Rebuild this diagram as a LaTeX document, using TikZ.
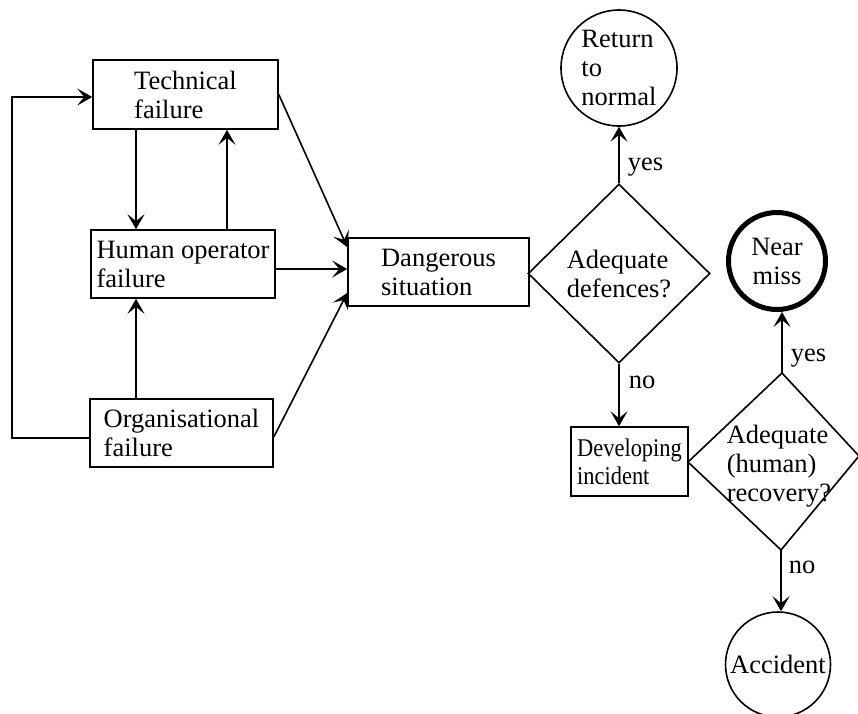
\documentclass[tikz,border=0pt]{standalone}
\usepackage{fontspec}
\setmainfont{Liberation Serif}
\usetikzlibrary{arrows.meta,shapes.geometric}
\begin{document}
\begin{tikzpicture}[x=1pt,y=-1pt,
  font=\fontsize{26.5}{29}\selectfont,
  box/.style={draw, line width=1.6pt, inner sep=2pt, align=left},
  circ/.style={draw, circle, line width=1.6pt, inner sep=0pt, align=left},
  arr/.style={line width=1.6pt, -{Stealth[length=15pt,width=17pt,inset=7pt]}},
  lbl/.style={inner sep=0pt, anchor=west}]
\useasboundingbox (0,0) rectangle (858,713);
\clip (0,0) rectangle (858,713);

% boxes
\node[box, minimum width=185pt, minimum height=69pt] (tech) at (185.5,94.5) {Technical\\failure};
\node[box, minimum width=184pt, minimum height=68pt] (hum) at (183,264) {Human operator\\failure};
\node[box, minimum width=183pt, minimum height=68pt] (org) at (181.5,433) {Organisational\\failure};
\node[box, minimum width=181pt, minimum height=68pt] (dang) at (438.5,272) {Dangerous\\situation};
\node[box, minimum width=117pt, minimum height=69pt, inner sep=1pt,
      font=\fontsize{25.5}{28}\selectfont\addfontfeatures{FakeStretch=0.88}] (dev) at (629.5,461.5) {Developing\\incident};

% first decision
\node[draw, diamond, line width=1.6pt, inner sep=0pt, minimum width=182pt,
      minimum height=179pt, align=left] (d1) at (619,273.5) {Adequate\\defences?};

% second decision (irregular diamond)
\coordinate (d2l) at (688,462);
\coordinate (d2t) at (782,373);
\coordinate (d2r) at (859,456);
\coordinate (d2b) at (781,550);
\draw[line width=1.6pt, line join=miter] (d2l) -- (d2t) -- (d2r) -- (d2b) -- cycle;
\node[align=left, inner sep=0pt] (d2) at (779,466) {Adequate\\(human)\\recovery?};

% outcomes
\node[circ, minimum size=116pt] (ret) at (619,68) {Return\\to\\normal};
\node[draw, circle, line width=5pt, minimum size=97pt, inner sep=0pt, align=center] (near) at (777,261) {Near\\miss};
\node[circ, minimum size=105pt] (acc) at (778,664.5) {Accident};

% connectors on the left
\coordinate (xa) at (136,0);
\coordinate (xb) at (227,0);
\coordinate (lp) at (12,0);
\coordinate (tw) at ([yshift=-2.5pt]tech.west);
\coordinate (ow) at ([yshift=-5pt]org.west);
\draw[arr] (tech.south -| xa) -- (hum.north -| xa);
\draw[arr] (hum.north -| xb) -- (tech.south -| xb);
\draw[arr] (org.north -| xa) -- (hum.south -| xa);
\draw[arr] (ow) -- (ow -| lp) -- (tw -| lp) -- (tw);

% into dangerous situation
\draw[arr] (tech.east) -- ([yshift=25pt]dang.west);
\draw[arr] ([yshift=-5pt]hum.east) -- ([yshift=3pt]dang.west);
\draw[arr] ([yshift=-4pt]org.east) -- ([yshift=-21pt]dang.west);

% decisions
\draw[arr] (d1.north) -- node[lbl, pos=0.28, xshift=8pt] {yes} (ret.south);
\draw[arr] (d1.south) -- node[lbl, pos=0.3, xshift=9pt] {no} (dev.north -| d1.south);
\draw[arr] (d2t) -- node[lbl, pos=0.24, xshift=8pt] {yes} (near.south -| d2t);
\draw[arr] (d2b) -- node[lbl, pos=0.29, xshift=7pt] {no} (acc.north -| d2b);
\end{tikzpicture}
\end{document}
